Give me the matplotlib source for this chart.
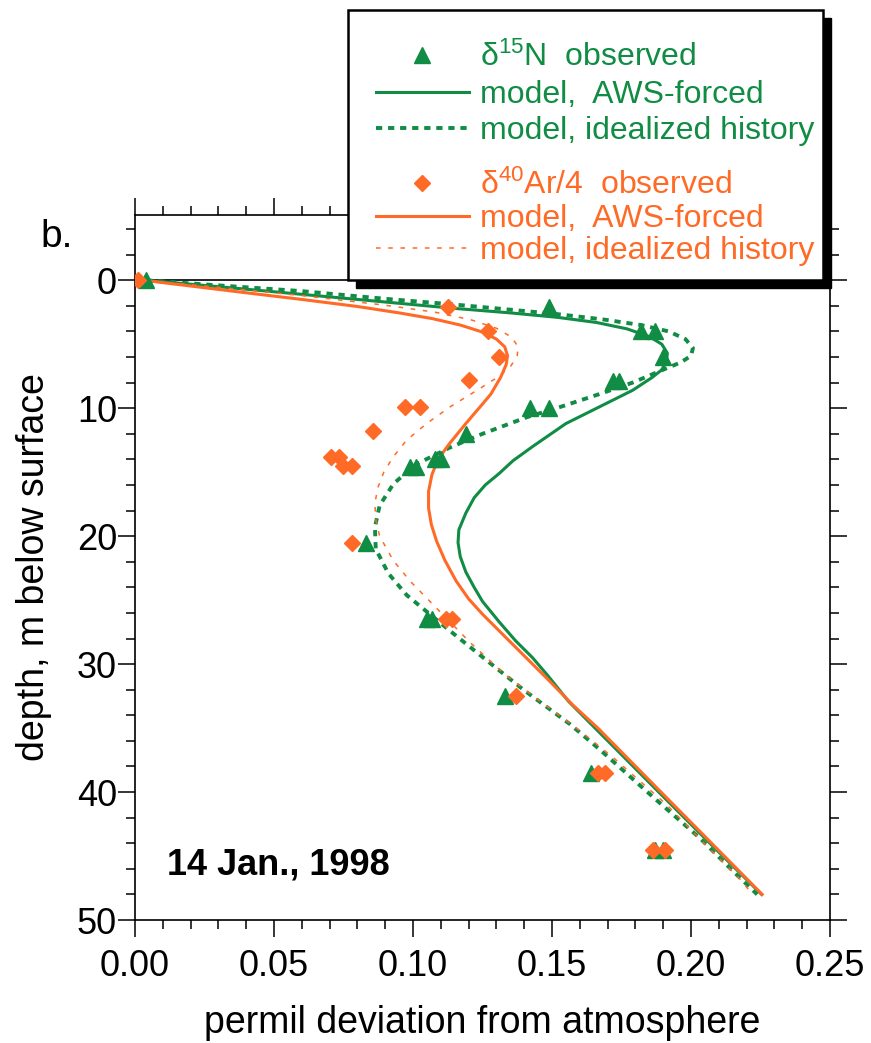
import numpy as np
import matplotlib
matplotlib.use('Agg')
import matplotlib.pyplot as plt
from matplotlib.ticker import MultipleLocator, FormatStrFormatter
from matplotlib.patches import Rectangle

plt.rcParams['font.family'] = 'Liberation Sans'
plt.rcParams['mathtext.fontset'] = 'custom'
plt.rcParams['mathtext.rm'] = 'Liberation Sans'
plt.rcParams['mathtext.it'] = 'Liberation Sans:italic'

GREEN = '#108c44'
ORANGE = '#ff6a26'

# observed d15N (permil) vs depth (m)
n15_x = [0.004, 0.149, 0.182, 0.187, 0.190, 0.172, 0.174, 0.142, 0.149, 0.119,
         0.108, 0.110, 0.099, 0.101, 0.083, 0.105, 0.107, 0.133, 0.164, 0.187, 0.190]
n15_depth = [0, 2.1, 4.0, 4.0, 6.0, 7.9, 7.9, 10, 10, 12,
             14, 14, 14.6, 14.6, 20.5, 26.5, 26.5, 32.5, 38.5, 44.5, 44.5]

# observed d40Ar/4
ar_x = [0.001, 0.1125, 0.127, 0.131, 0.120, 0.097, 0.1025, 0.0855, 0.0705, 0.0735,
        0.0747, 0.0782, 0.078, 0.112, 0.114, 0.137, 0.1666, 0.169, 0.1864, 0.1906]
ar_depth = [0, 2.1, 4, 6, 7.8, 9.9, 9.9, 11.8, 13.8, 13.8,
            14.5, 14.5, 20.5, 26.5, 26.5, 32.5, 38.5, 38.5, 44.5, 44.5]

# model, AWS-forced (d15N)
n15_aws_x = [0.004, 0.03, 0.06, 0.09, 0.115, 0.135, 0.152, 0.166, 0.177, 0.185,
             0.1895, 0.1915, 0.1912, 0.1895, 0.186, 0.179, 0.167, 0.155, 0.143, 0.136,
             0.131, 0.126, 0.122, 0.119, 0.1165, 0.1162, 0.117, 0.119, 0.122, 0.125,
             0.131, 0.137, 0.143, 0.1485, 0.1559, 0.1655, 0.1884, 0.2068, 0.2254]
n15_aws_depth = [0, 0.5, 1.1, 1.7, 2.2, 2.55, 2.9, 3.3, 3.8, 4.4,
                 5.0, 5.7, 6.3, 7.0, 7.6, 8.6, 9.9, 11.2, 13.0, 14.1,
                 15.1, 16.0, 17.0, 18.2, 19.5, 20.5, 21.6, 22.8, 24.0, 25.1,
                 26.7, 28.2, 29.5, 30.9, 32.9, 35.0, 40.0, 44.0, 48.0]

# model, idealized history (d15N)
n15_ideal_x = [0.004, 0.03, 0.06, 0.09, 0.115, 0.135, 0.152, 0.168, 0.182, 0.192,
               0.198, 0.2007, 0.200, 0.1965, 0.191, 0.179, 0.167, 0.153, 0.141, 0.125,
               0.113, 0.101, 0.093, 0.088, 0.0863, 0.0866, 0.0911, 0.0977, 0.1133, 0.1253,
               0.1397, 0.1565, 0.1673, 0.1864, 0.2032, 0.2152, 0.2238]
n15_ideal_depth = [0, 0.4, 0.85, 1.45, 1.9, 2.3, 2.65, 3.05, 3.5, 4.0,
                   4.6, 5.3, 5.9, 6.4, 6.9, 8.0, 8.9, 9.9, 10.7, 12.0,
                   13.1, 14.4, 15.9, 17.6, 19.3, 21.0, 22.9, 24.6, 27.4, 29.5,
                   32.0, 34.7, 36.7, 40.4, 43.6, 46.2, 48.0]

# model, AWS-forced (d40Ar/4)
ar_aws_x = [0.003, 0.02, 0.04, 0.06, 0.08, 0.095, 0.107, 0.117, 0.125, 0.130,
            0.1330, 0.1340, 0.1335, 0.1315, 0.128, 0.1245, 0.119, 0.113, 0.109, 0.1068,
            0.1056, 0.1056, 0.1066, 0.1085, 0.1115, 0.1155, 0.120, 0.125, 0.131, 0.137,
            0.143, 0.149, 0.1575, 0.1665, 0.1892, 0.2074, 0.2256]
ar_aws_depth = [0, 0.45, 0.98, 1.5, 2.05, 2.55, 3.0, 3.5, 4.05, 4.6,
                5.2, 5.9, 6.6, 7.6, 8.9, 9.8, 11.2, 12.8, 14.0, 15.2,
                16.5, 17.8, 19.1, 20.4, 21.9, 23.5, 24.9, 26.1, 27.4, 28.7,
                30.0, 31.3, 33.2, 35.0, 40.0, 44.0, 48.0]

# model, idealized history (d40Ar/4)
ar_ideal_x = [0.003, 0.03, 0.06, 0.09, 0.108, 0.121, 0.130, 0.1355, 0.1378, 0.1375,
              0.1352, 0.131, 0.1245, 0.1133, 0.1049, 0.0977, 0.0929, 0.0895, 0.0872, 0.0863,
              0.0866, 0.088, 0.0929, 0.0989, 0.1097, 0.1205, 0.1330, 0.1457, 0.160, 0.172,
              0.1913, 0.2056, 0.2176, 0.2222]
ar_ideal_depth = [0, 0.55, 1.2, 1.95, 2.5, 3.1, 3.75, 4.45, 5.2, 5.9,
                  6.7, 7.5, 8.4, 9.9, 11.2, 12.5, 13.8, 15.0, 16.3, 17.5,
                  18.7, 20.0, 21.9, 23.5, 25.9, 28.3, 30.8, 32.9, 35.2, 37.3,
                  41.0, 44.2, 46.8, 48.0]

fig = plt.figure(figsize=(8.71, 10.43), dpi=100)
ax = fig.add_axes([135/871, 123/1043, 695/871, 705/1043])

ax.axhline(0, color='black', lw=1.2, zorder=1)

l1, = ax.plot(n15_aws_x, n15_aws_depth, color=GREEN, lw=2.2, zorder=2)
l2, = ax.plot(n15_ideal_x, n15_ideal_depth, color=GREEN, lw=2.8, ls=(0, (1.6, 1.5)), zorder=2)
l3, = ax.plot(ar_aws_x, ar_aws_depth, color=ORANGE, lw=2.2, zorder=2)
l4, = ax.plot(ar_ideal_x, ar_ideal_depth, color=ORANGE, lw=1.1, ls=(0, (3, 5)), zorder=2)
m1, = ax.plot(n15_x, n15_depth, ls='none', marker='^', ms=12, color=GREEN, zorder=3)
m2, = ax.plot(ar_x, ar_depth, ls='none', marker='D', ms=8.5, color=ORANGE, zorder=4)

ax.set_xlim(0, 0.25)
ax.set_ylim(50, -5.1)
ax.xaxis.set_major_locator(MultipleLocator(0.05))
ax.xaxis.set_minor_locator(MultipleLocator(0.01))
ax.xaxis.set_major_formatter(FormatStrFormatter('%.2f'))
ax.set_yticks([0, 10, 20, 30, 40, 50])
ax.yaxis.set_minor_locator(MultipleLocator(2))
ax.tick_params(which='both', direction='out', top=True, right=True, width=1.1)
ax.tick_params(which='major', length=12, labelsize=26)
ax.tick_params(which='minor', length=6.5)
ax.tick_params(axis='x', pad=9)
ax.tick_params(axis='y', pad=1)
for s in ax.spines.values():
    s.set_linewidth(1.2)

ax.set_xlabel('permil deviation from atmosphere', fontsize=27, labelpad=15)
ax.set_ylabel('depth, m below surface', fontsize=27, labelpad=18)

ax.text(0.0115, 45.7, '14 Jan., 1998', fontsize=26, fontweight='bold', va='center')
fig.text(40/871, 1 - 237/1043, 'b.', fontsize=28, va='center')

# legend box with drop shadow
bx, by, bw, bh = 348/871, 1 - 280/1043, 475/871, 270/1043
fig.add_artist(Rectangle((bx + 8/871, by - 8/1043), bw, bh, transform=fig.transFigure,
                         facecolor='black', edgecolor='black', zorder=3))
fig.add_artist(Rectangle((bx, by), bw, bh, transform=fig.transFigure,
                         facecolor='white', edgecolor='black', lw=1.8, zorder=4))

leg_kw = dict(frameon=False, fontsize=23, handlelength=2.9, handletextpad=0.35,
              borderpad=0, borderaxespad=0, loc='upper left', labelcolor='linecolor')
leg1 = fig.legend([m1, l1, l2],
                  ['δ$^{\\mathrm{15}}$N  observed', 'model,  AWS-forced', 'model, idealized history'],
                  bbox_to_anchor=(376/871, 1 - 42/1043), labelspacing=0.2, **leg_kw)
leg1.set_zorder(5)
leg2 = fig.legend([m2, l3, l4],
                  ['δ$^{\\mathrm{40}}$Ar/4  observed', 'model,  AWS-forced', 'model, idealized history'],
                  bbox_to_anchor=(376/871, 1 - 170/1043), labelspacing=0.08, **leg_kw)
leg2.set_zorder(5)

fig.savefig('out.png', dpi=100)
